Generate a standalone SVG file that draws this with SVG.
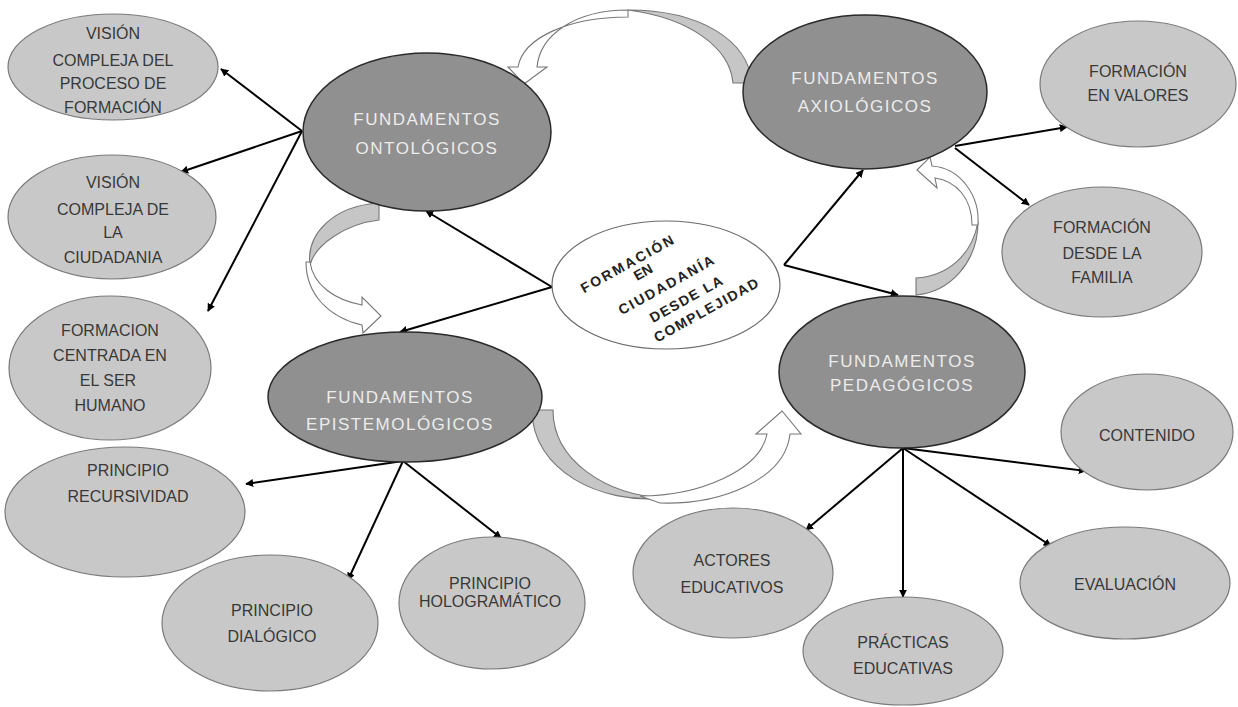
<svg xmlns="http://www.w3.org/2000/svg" width="1238" height="707" viewBox="0 0 1238 707">
<defs>
<marker id="ah" viewBox="0 0 10 10" refX="9" refY="5" markerWidth="8" markerHeight="8" markerUnits="userSpaceOnUse" orient="auto">
<path d="M0,0 L10,5 L0,10 Z" fill="#000"/>
</marker>
<style>
.dark{fill:#909090;stroke:#2a2a2a;stroke-width:1.5}
.light{fill:#c8c8c8;stroke:#7a7a7a;stroke-width:1.2}
.center{fill:#fff;stroke:#6a6a6a;stroke-width:1.2}
.dt{font-family:"Liberation Sans",Arial,sans-serif;font-size:17px;fill:#ececec;text-anchor:middle;letter-spacing:1.5px}
.lt{font-family:"Liberation Sans",Arial,sans-serif;font-size:16px;fill:#383838;text-anchor:middle}
.ct{font-family:"Liberation Sans",Arial,sans-serif;font-size:14px;font-weight:bold;fill:#222;text-anchor:middle}
.conn line{stroke:#000;stroke-width:2;marker-end:url(#ah)}
.rib{fill:#fff;stroke:#777;stroke-width:1.1}
.ribs{fill:#c6c6c6;stroke:#777;stroke-width:1.1}
</style>
</defs>
<rect width="1238" height="707" fill="#fff"/>

<g id="curved-arrows">
<!-- top: axiologicos -> ontologicos -->
<path class="rib" d="M628,10 C575,10 540,35 537,67 L547,67 L524,84 L508,67 L518,67 C523,38 568,17 628,17 Z"/>
<path class="ribs" d="M733,83 L752,83 C748,40 700,10 628,10 C690,18 730,48 733,83 Z"/>
<!-- left: ontologicos -> epistemologicos -->
<path class="ribs" d="M379,203 L379,220 C345,224 315,245 310,265 C306,235 332,206 379,203 Z"/>
<path class="rib" d="M306,262 C306,295 330,318 362,325 L363,333 L381,316 L362,297 L362,305 C335,300 313,285 310,262 Z"/>
<!-- bottom: epistemologicos -> pedagogicos -->
<path class="ribs" d="M532,410 L553,410 C553,460 605,495 665,498 C600,505 532,470 532,410 Z"/>
<path class="rib" d="M640,496 C700,496 760,470 767,434 L756,434 L782,411 L801,434 L790,434 C785,480 720,505 660,503 Z"/>
<!-- right: pedagogicos -> axiologicos -->
<path class="ribs" d="M916,278 L916,295 C950,292 978,262 978,222 C972,255 948,276 916,278 Z"/>
<path class="rib" d="M972,225 C972,198 956,181 935,178 L937,188 L917,170 L930,157 L932,166 C960,168 980,195 978,225 Z"/>
</g>

<g id="connectors" class="conn">
<line x1="302" y1="131" x2="221" y2="69"/>
<line x1="302" y1="131" x2="181" y2="172"/>
<line x1="302" y1="131" x2="208" y2="311"/>
<line x1="552" y1="287" x2="426" y2="211"/>
<line x1="552" y1="287" x2="400" y2="332"/>
<line x1="784" y1="265" x2="863" y2="170"/>
<line x1="784" y1="265" x2="898" y2="295"/>
<line x1="955" y1="146" x2="1067" y2="127"/>
<line x1="955" y1="148" x2="1029" y2="205"/>
<line x1="403" y1="461" x2="246" y2="484"/>
<line x1="403" y1="461" x2="348" y2="580"/>
<line x1="403" y1="461" x2="501" y2="538"/>
<line x1="903" y1="448" x2="806" y2="530"/>
<line x1="903" y1="448" x2="903" y2="597"/>
<line x1="903" y1="448" x2="1051" y2="546"/>
<line x1="903" y1="448" x2="1086" y2="471"/>
</g>

<g id="n-ontologicos">
<ellipse class="dark" cx="427" cy="132" rx="124" ry="79"/>
<text class="dt" x="427" y="125">FUNDAMENTOS</text>
<text class="dt" x="427" y="154">ONTOLÓGICOS</text>
</g>
<g id="n-axiologicos">
<ellipse class="dark" cx="865" cy="92" rx="122" ry="77"/>
<text class="dt" x="865" y="84" letter-spacing="2">FUNDAMENTOS</text>
<text class="dt" x="865" y="112" letter-spacing="2">AXIOLÓGICOS</text>
</g>
<g id="n-epistemologicos">
<ellipse class="dark" cx="405" cy="397" rx="137" ry="65"/>
<text class="dt" x="400" y="403">FUNDAMENTOS</text>
<text class="dt" x="400" y="430">EPISTEMOLÓGICOS</text>
</g>
<g id="n-pedagogicos">
<ellipse class="dark" cx="902" cy="372" rx="123" ry="76"/>
<text class="dt" x="902" y="367" font-size="16" letter-spacing="0.5">FUNDAMENTOS</text>
<text class="dt" x="902" y="391" font-size="16" letter-spacing="0.5">PEDAGÓGICOS</text>
</g>
<g id="n-centro">
<ellipse class="center" cx="666" cy="285" rx="114" ry="64"/>
<text class="ct" transform="translate(627,264) rotate(-29)" y="5" textLength="104" lengthAdjust="spacing">FORMACIÓN</text>
<text class="ct" transform="translate(643,272) rotate(-29)" y="5">EN</text>
<text class="ct" transform="translate(666,285) rotate(-29)" y="5" textLength="107" lengthAdjust="spacing">CIUDADANÍA</text>
<text class="ct" transform="translate(686,299) rotate(-29)" y="5" textLength="81" lengthAdjust="spacing">DESDE LA</text>
<text class="ct" transform="translate(706,310) rotate(-29)" y="5" textLength="117" lengthAdjust="spacing">COMPLEJIDAD</text>
</g>

<g id="n-vision-proceso">
<ellipse class="light" cx="113" cy="67" rx="105" ry="53"/>
<text class="lt" x="113" y="39">VISIÓN</text>
<text class="lt" x="113" y="66">COMPLEJA DEL</text>
<text class="lt" x="113" y="89">PROCESO DE</text>
<text class="lt" x="113" y="113">FORMACIÓN</text>
</g>
<g id="n-vision-ciudadania">
<ellipse class="light" cx="112" cy="217" rx="104" ry="62"/>
<text class="lt" x="113" y="188">VISIÓN</text>
<text class="lt" x="113" y="215">COMPLEJA DE</text>
<text class="lt" x="113" y="238">LA</text>
<text class="lt" x="113" y="263">CIUDADANIA</text>
</g>
<g id="n-formacion-centrada">
<ellipse class="light" cx="110" cy="368" rx="101" ry="72"/>
<text class="lt" x="110" y="336">FORMACION</text>
<text class="lt" x="110" y="361">CENTRADA EN</text>
<text class="lt" x="108" y="386">EL SER</text>
<text class="lt" x="110" y="411">HUMANO</text>
</g>
<g id="n-recursividad">
<ellipse class="light" cx="125" cy="512" rx="120" ry="65"/>
<text class="lt" x="128" y="476">PRINCIPIO</text>
<text class="lt" x="128" y="502">RECURSIVIDAD</text>
</g>
<g id="n-dialogico">
<ellipse class="light" cx="270" cy="623" rx="108" ry="68"/>
<text class="lt" x="272" y="616">PRINCIPIO</text>
<text class="lt" x="272" y="642">DIALÓGICO</text>
</g>
<g id="n-hologramatico">
<ellipse class="light" cx="492" cy="603" rx="93" ry="66"/>
<text class="lt" x="490" y="589" font-size="11">PRINCIPIO</text>
<text class="lt" x="490" y="607" font-size="11">HOLOGRAMÁTICO</text>
</g>
<g id="n-valores">
<ellipse class="light" cx="1138" cy="84" rx="98" ry="63"/>
<text class="lt" x="1138" y="77">FORMACIÓN</text>
<text class="lt" x="1138" y="101">EN VALORES</text>
</g>
<g id="n-familia">
<ellipse class="light" cx="1102" cy="252" rx="100" ry="65"/>
<text class="lt" x="1102" y="233">FORMACIÓN</text>
<text class="lt" x="1102" y="259">DESDE LA</text>
<text class="lt" x="1102" y="283">FAMILIA</text>
</g>
<g id="n-contenido">
<ellipse class="light" cx="1147" cy="432" rx="86" ry="58"/>
<text class="lt" x="1147" y="441">CONTENIDO</text>
</g>
<g id="n-actores">
<ellipse class="light" cx="733" cy="573" rx="100" ry="65"/>
<text class="lt" x="732" y="566">ACTORES</text>
<text class="lt" x="732" y="593">EDUCATIVOS</text>
</g>
<g id="n-practicas">
<ellipse class="light" cx="903" cy="651" rx="100" ry="54"/>
<text class="lt" x="903" y="648">PRÁCTICAS</text>
<text class="lt" x="903" y="674">EDUCATIVAS</text>
</g>
<g id="n-evaluacion">
<ellipse class="light" cx="1125" cy="583" rx="105" ry="56"/>
<text class="lt" x="1125" y="590">EVALUACIÓN</text>
</g>
</svg>
